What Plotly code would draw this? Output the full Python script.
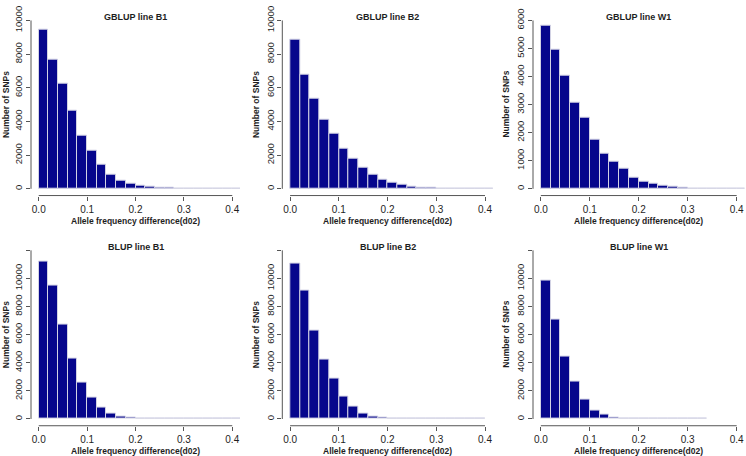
import plotly.graph_objects as go
from plotly.subplots import make_subplots

W, H = 746, 456

# ---- data (counts per 0.02-wide bin starting at 0.0) ----
bin_width = 0.02
gblup_b1 = [9437, 7689, 6233, 4621, 3126, 2291, 1417, 835, 505, 330, 194, 117, 58, 40, 25, 15, 8, 5, 3, 2, 1]
gblup_b2 = [8854, 6777, 5359, 4117, 3262, 2408, 1767, 1262, 835, 563, 369, 272, 155, 78, 40, 20, 10, 5, 3, 1, 2]
gblup_w1 = [5802, 4952, 4031, 3064, 2551, 1759, 1235, 955, 722, 396, 256, 175, 117, 58, 35, 15, 8, 4, 2, 1, 1]
blup_b1 = [11210, 9476, 6705, 4295, 2572, 1500, 790, 360, 140, 70, 20, 8, 4, 2, 1, 1, 1, 1, 1, 1, 1]
blup_b2 = [11025, 9137, 6294, 4196, 2867, 1585, 909, 420, 190, 70, 20, 8, 3, 2, 1, 1, 1, 1, 1, 1]
blup_w1 = [9860, 7040, 4430, 2657, 1352, 583, 303, 120, 50, 15, 6, 3, 2, 1, 1, 1, 1]

titles = ["GBLUP line B1", "GBLUP line B2", "GBLUP line W1",
          "BLUP line B1", "BLUP line B2", "BLUP line W1"]
series = [gblup_b1, gblup_b2, gblup_w1, blup_b1, blup_b2, blup_w1]
y_tick_max = [10000, 10000, 6000, 12000, 12000, 12000]
y_tick_step = [2000, 2000, 1000, 2000, 2000, 2000]
y_hidden_labels = [[], [], [], [12000], [12000], [12000]]
x_ticks = [0.0, 0.1, 0.2, 0.3, 0.4]
x_tick_labels = ["0.0", "0.1", "0.2", "0.3", "0.4"]
x_title = "Allele frequency difference(d02)"
y_title = "Number of SNPs"

# ---- layout geometry (pixels) ----
col_px = [(31, 240), (282.3, 492.8), (533, 744.5)]
row_px = [(5.8, 190.9), (239.8, 425.2)]
title_y_px = [9.5, 243.3]
xtitle_y_px = [217.3, 450.7]
ytitle_x_px = [5.5, 255.5, 506]

FONT = "Liberation Sans, Arial, sans-serif"
BAR = "#06068c"
EDGE = "#d2d2e4"
AX = "#555555"
TXT = "#1e1e1e"

fig = make_subplots(rows=2, cols=3)

def px2x(p):
    return p / W

def px2y(p):
    return 1 - p / H

annotations = []
shapes = []
for i, (name, counts) in enumerate(zip(titles, series)):
    r, c = divmod(i, 3)
    centers = [bin_width * (k + 0.5) for k in range(len(counts))]
    fig.add_trace(go.Bar(x=centers, y=counts, width=bin_width,
                         marker=dict(color=BAR, line=dict(color=EDGE, width=1)),
                         showlegend=False, hoverinfo="x+y"),
                  row=r + 1, col=c + 1)
    xa = "xaxis" if i == 0 else f"xaxis{i+1}"
    ya = "yaxis" if i == 0 else f"yaxis{i+1}"
    xref = "x" if i == 0 else f"x{i+1}"
    yref = "y" if i == 0 else f"y{i+1}"
    ymax = y_tick_max[i]
    pad = 0.04 * ymax
    yt = list(range(0, ymax + 1, y_tick_step[i]))
    ytt = ["" if v in y_hidden_labels[i] else str(v) for v in yt]
    x0p, x1p = col_px[c]
    y0p, y1p = row_px[r]
    fig.layout[xa].update(domain=[px2x(x0p), px2x(x1p)], range=[-0.016, 0.416],
                          tickvals=x_ticks, ticktext=x_tick_labels,
                          ticks="outside", ticklen=4, tickcolor=AX,
                          showgrid=False, zeroline=False, showline=False,
                          tickfont=dict(family=FONT, size=10, color=TXT))
    fig.layout[ya].update(domain=[px2y(y1p), px2y(y0p)], range=[-pad, ymax + pad],
                          tickvals=yt, ticktext=ytt, tickangle=-90,
                          ticks="outside", ticklen=4, tickcolor=AX,
                          showgrid=False, zeroline=False, showline=False,
                          tickfont=dict(family=FONT, size=9.5, color=TXT))
    # R-style axis lines spanning only the tick range
    shapes.append(dict(type="line", xref=xref, yref=f"{yref} domain",
                       x0=x_ticks[0], x1=x_ticks[-1], y0=0, y1=0,
                       line=dict(color=AX, width=1)))
    shapes.append(dict(type="line", xref=f"{xref} domain", yref=yref,
                       x0=0, x1=0, y0=0, y1=ymax,
                       line=dict(color=AX, width=1)))
    cx = (x0p + x1p) / 2
    annotations.append(dict(text=f"<b>{name}</b>", x=px2x(cx), y=px2y(title_y_px[r]),
                            xref="paper", yref="paper", showarrow=False,
                            xanchor="center", yanchor="middle",
                            font=dict(family=FONT, size=9, color=TXT)))
    annotations.append(dict(text=f"<b>{x_title}</b>", x=px2x(cx), y=px2y(xtitle_y_px[r]),
                            xref="paper", yref="paper", showarrow=False,
                            xanchor="center", yanchor="middle",
                            font=dict(family=FONT, size=8.5, color=TXT)))
    annotations.append(dict(text=f"<b>{y_title}</b>", x=px2x(ytitle_x_px[c]),
                            y=px2y((y0p + y1p) / 2),
                            xref="paper", yref="paper", showarrow=False, textangle=-90,
                            xanchor="center", yanchor="middle",
                            font=dict(family=FONT, size=8.5, color=TXT)))

fig.update_layout(width=W, height=H, margin=dict(l=0, r=0, t=0, b=0),
                  paper_bgcolor="white", plot_bgcolor="white",
                  bargap=0, annotations=annotations, shapes=shapes,
                  font=dict(family=FONT))

fig.write_html("out.html", config={"displayModeBar": False},
               post_script="document.body.style.margin='0';document.body.style.padding='0';")
